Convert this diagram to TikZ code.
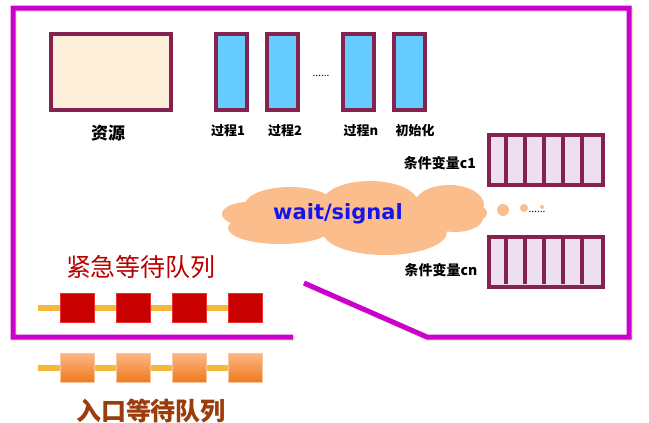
\documentclass[tikz,border=0pt]{standalone}
\usepackage{fontspec}
\setmainfont{Noto Sans CJK SC}
\newfontfamily\sigfont{DejaVu Sans}
\usetikzlibrary{backgrounds}
\definecolor{mag}{HTML}{CC00CC}
\definecolor{shadowc}{HTML}{F4E8D6}
\definecolor{maroonb}{HTML}{862250}
\definecolor{resfill}{HTML}{FDEEDA}
\definecolor{procfill}{HTML}{66CCFF}
\definecolor{qfill}{HTML}{EEDFF0}
\definecolor{cloudfill}{HTML}{FBBD8C}
\definecolor{sigblue}{HTML}{1414F0}
\definecolor{redsq}{HTML}{C80000}
\definecolor{redlite}{HTML}{E83030}
\definecolor{linkor}{HTML}{F6B838}
\definecolor{ortop}{HTML}{FBB585}
\definecolor{orbot}{HTML}{F07A1A}
\definecolor{redtxt}{HTML}{B80000}
\definecolor{browntxt}{HTML}{9A3C0C}
\definecolor{dotc}{HTML}{FBBD8C}
\begin{document}
\begin{tikzpicture}[x=1pt,y=-1pt,
  boxb/.style={draw=maroonb,line width=4pt,inner sep=0pt},
  resbox/.style={boxb,fill=resfill,minimum width=120pt,minimum height=76pt},
  procbox/.style={boxb,fill=procfill,minimum width=31pt,minimum height=76pt},
  qbox/.style={boxb,fill=qfill,minimum width=114pt,minimum height=50pt},
  lbl/.style={inner sep=0pt,font=\fontsize{13}{13}\selectfont\bfseries},
  clbl/.style={inner sep=0pt,font=\fontsize{14}{14}\selectfont\bfseries},
  redsqr/.style={inner sep=0pt,minimum width=34pt,minimum height=29pt,
     fill=redsq,draw=redlite,line width=0.8pt},
  orsqr/.style={inner sep=0pt,minimum width=34pt,minimum height=29pt,
     top color=ortop,bottom color=orbot,draw=ortop!80!white,line width=0.8pt},
  link/.style={draw=linkor,line width=6pt},
  frame/.style={line width=5pt,line join=miter}
]
\useasboundingbox (0,0) rectangle (649,423);
% frame
\draw[frame,draw=shadowc,shift={(1.5,1.5)}] (293,337) -- (13,337) -- (13,8) -- (629,8) -- (629,337) -- (427,337) -- (304,283);
\draw[frame,draw=mag] (293,337) -- (13,337) -- (13,8) -- (629,8) -- (629,337) -- (427,337) -- (304,283);
% resource and processes
\node[resbox] (res) at (111,72) {};
\node[font=\fontsize{17}{17}\selectfont\bfseries,inner sep=0pt] (reslbl) at (108,133) {资源};
\node[procbox] (p1) at (231.5,72) {};
\node[procbox] (p2) at (282,72) {};
\node[procbox] (pn) at (358,72) {};
\node[procbox] (pinit) at (409,72) {};
\node[lbl] (p1lbl) at (228,131) {过程1};
\node[lbl] (p2lbl) at (285,131) {过程2};
\node[lbl] (pnlbl) at (361,131) {过程n};
\node[lbl] (pinitlbl) at (415,131) {初始化};
\node[inner sep=0pt,font=\fontsize{10}{10}\selectfont] (pdots) at (321,76) {......};
% condition queues
\node[qbox] (c1) at (546,160) {};
\foreach \k in {1,...,5}{\draw[maroonb,line width=4pt] (c1.north west) ++(19*\k,0) -- ++(0,50);}
\node[qbox] (cn) at (546,261.5) {};
\foreach \k in {1,...,5}{\draw[maroonb,line width=4pt] (cn.north west) ++(19*\k,0) -- ++(0,49);}
\node[clbl] (c1lbl) at (440,163) {条件变量c1};
\node[clbl] (cnlbl) at (441,270) {条件变量cn};
% cloud
\coordinate (cloud) at (355,216);
\fill[cloudfill]
  (248,214) ellipse [x radius=26, y radius=12]
  (290,205) ellipse [x radius=45, y radius=18]
  (370,203) ellipse [x radius=48, y radius=22]
  (449,205) ellipse [x radius=35, y radius=20]
  (465,213) ellipse [x radius=22, y radius=10]
  (455,218) ellipse [x radius=28, y radius=14]
  (385,232) ellipse [x radius=62, y radius=23]
  (280,228) ellipse [x radius=52, y radius=16]
  (355,216) ellipse [x radius=110, y radius=20];
\node[inner sep=0pt,text=sigblue,font=\sigfont\bfseries\fontsize{21}{21}\selectfont] (sig) at (338,214) {wait/signal};
\node[circle,fill=dotc,inner sep=0pt,minimum size=12pt] (b1) at (503,210) {};
\node[circle,fill=dotc,inner sep=0pt,minimum size=8pt] (b2) at (524,208) {};
\node[circle,fill=dotc,inner sep=0pt,minimum size=4pt] (b3) at (542,207) {};
\node[inner sep=0pt,font=\fontsize{10}{10}\selectfont] (qdots) at (537,212) {......};
% urgent queue
\node[inner sep=0pt,text=redtxt,font=\fontsize{25}{25}\selectfont] (urg) at (141,267) {紧急等待队列};
\coordinate (ustart) at (38,308);
\node[redsqr] (r1) at (77,308) {};
\node[redsqr] (r2) at (133,308) {};
\node[redsqr] (r3) at (189,308) {};
\node[redsqr] (r4) at (245,308) {};
\begin{scope}[on background layer]
\draw[link] (ustart) -- (r1) -- (r2) -- (r3) -- (r4);
\end{scope}
% entry queue
\coordinate (estart) at (38,368);
\node[orsqr] (o1) at (77,368) {};
\node[orsqr] (o2) at (133,368) {};
\node[orsqr] (o3) at (189,368) {};
\node[orsqr] (o4) at (245,368) {};
\begin{scope}[on background layer]
\draw[link] (estart) -- (o1) -- (o2) -- (o3) -- (o4);
\end{scope}
\node[inner sep=0pt,text=browntxt,font=\fontsize{25}{25}\selectfont\bfseries] (ent) at (151,411) {入口等待队列};
\end{tikzpicture}
\end{document}
